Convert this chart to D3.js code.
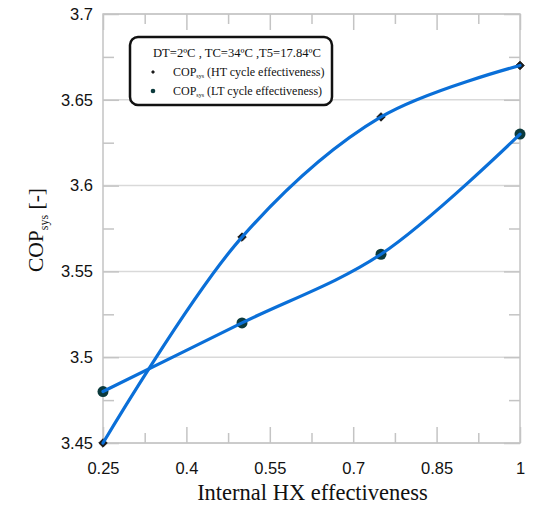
<!DOCTYPE html>
<html lang="en">
<head>
  <meta charset="UTF-8" />
  <title>COP sys vs internal HX effectiveness</title>
  <script src="https://d3js.org/d3.v7.min.js"></script>
  <style>
    body {
      margin: 0;
      background: white;
    }
    svg {
      display: block;
    }
    .tick-label text {
      font-family: "Liberation Sans", sans-serif;
      font-size: 16.5px;
      fill: #111;
    }
    .serif {
      font-family: "Liberation Serif", "Times New Roman", serif;
      fill: #111;
    }
  </style>
</head>
<body>
  <svg width="545" height="516"></svg>

  <script>
    // values
    const effectiveness = [0.25, 0.5, 0.75, 1];
    const copHT = [3.45, 3.57, 3.64, 3.67];
    const copLT = [3.48, 3.52, 3.56, 3.63];
    const xTicks = [0.25, 0.4, 0.55, 0.7, 0.85, 1];
    const xMinorTicks = [0.325, 0.475, 0.625, 0.775, 0.925];
    const yTicks = [3.45, 3.5, 3.55, 3.6, 3.65, 3.7];
    const yMinorTicks = [3.475, 3.525, 3.575, 3.625, 3.675];

    const margin = { top: 14, right: 25, bottom: 73, left: 103 };
    const width = 545, height = 516;
    const svg = d3.select("svg");

    const x = d3.scaleLinear().domain([0.25, 1]).range([margin.left, width - margin.right]);
    const y = d3.scaleLinear().domain([3.45, 3.7]).range([height - margin.bottom, margin.top]);

    const axisColor = "#c4c4c4";
    const gridColor = "#d9d9d9";
    const plotBottom = y.range()[0], plotTop = y.range()[1];
    const plotLeft = x.range()[0], plotRight = x.range()[1];

    // horizontal gridlines
    svg.append("g")
      .selectAll("line")
      .data(yTicks)
      .join("line")
      .attr("x1", plotLeft)
      .attr("x2", plotRight)
      .attr("y1", d => y(d))
      .attr("y2", d => y(d))
      .attr("stroke", gridColor)
      .attr("stroke-width", 1.5);

    // frame
    svg.append("rect")
      .attr("x", plotLeft)
      .attr("y", plotTop)
      .attr("width", plotRight - plotLeft)
      .attr("height", plotBottom - plotTop)
      .attr("fill", "none")
      .attr("stroke", axisColor)
      .attr("stroke-width", 1.5);

    // inward ticks on all four sides
    function styleAxis(g) {
      g.select(".domain").remove();
      g.selectAll(".tick line").attr("stroke", axisColor).attr("stroke-width", 1.5);
    }

    svg.append("g").attr("transform", `translate(0,${plotBottom})`)
      .call(d3.axisBottom(x).tickValues(xTicks).tickSize(-16).tickFormat(""))
      .call(styleAxis);
    svg.append("g").attr("transform", `translate(0,${plotBottom})`)
      .call(d3.axisBottom(x).tickValues(xMinorTicks).tickSize(-10).tickFormat(""))
      .call(styleAxis);
    svg.append("g").attr("transform", `translate(0,${plotTop})`)
      .call(d3.axisTop(x).tickValues(xTicks).tickSize(-16).tickFormat(""))
      .call(styleAxis);
    svg.append("g").attr("transform", `translate(0,${plotTop})`)
      .call(d3.axisTop(x).tickValues(xMinorTicks).tickSize(-10).tickFormat(""))
      .call(styleAxis);
    svg.append("g").attr("transform", `translate(${plotLeft},0)`)
      .call(d3.axisLeft(y).tickValues(yTicks).tickSize(-16).tickFormat(""))
      .call(styleAxis);
    svg.append("g").attr("transform", `translate(${plotLeft},0)`)
      .call(d3.axisLeft(y).tickValues(yMinorTicks).tickSize(-11).tickFormat(""))
      .call(styleAxis);
    svg.append("g").attr("transform", `translate(${plotRight},0)`)
      .call(d3.axisRight(y).tickValues(yTicks).tickSize(-16).tickFormat(""))
      .call(styleAxis);
    svg.append("g").attr("transform", `translate(${plotRight},0)`)
      .call(d3.axisRight(y).tickValues(yMinorTicks).tickSize(-11).tickFormat(""))
      .call(styleAxis);

    // tick labels
    svg.append("g").attr("class", "tick-label")
      .attr("transform", `translate(0,${plotBottom})`)
      .call(d3.axisBottom(x).tickValues(xTicks).tickSize(0).tickPadding(19).tickFormat(d3.format("")))
      .call(g => g.select(".domain").remove());
    svg.append("g").attr("class", "tick-label")
      .attr("transform", `translate(${plotLeft},0)`)
      .call(d3.axisLeft(y).tickValues(yTicks).tickSize(0).tickPadding(10).tickFormat(d3.format("")))
      .call(g => g.select(".domain").remove());

    // axis titles
    svg.append("text")
      .attr("class", "serif")
      .attr("x", (plotLeft + plotRight) / 2 + 1)
      .attr("y", 500)
      .attr("text-anchor", "middle")
      .attr("font-size", 22.5)
      .text("Internal HX effectiveness");

    const yTitle = svg.append("text")
      .attr("class", "serif")
      .attr("transform", "translate(43,230) rotate(-90)")
      .attr("text-anchor", "middle")
      .attr("font-size", 21.5);
    yTitle.append("tspan").text("COP");
    yTitle.append("tspan").attr("dy", 5).attr("font-size", 12).text("sys");
    yTitle.append("tspan").attr("dy", -5).text(" [-]");

    // markers (drawn under the lines, as in the source)
    const markerColor = "#0c3a3c";
    const diamond = d3.symbol().type(d3.symbolDiamond2).size(46);
    const htPoints = effectiveness.map((e, i) => [e, copHT[i]]);
    const ltPoints = effectiveness.map((e, i) => [e, copLT[i]]);

    svg.append("g")
      .selectAll("path")
      .data(htPoints)
      .join("path")
      .attr("d", diamond)
      .attr("transform", d => `translate(${x(d[0])},${y(d[1])})`)
      .attr("fill", "#1a1a1a")
      .attr("stroke", "#1a1a1a")
      .attr("stroke-width", 1);

    svg.append("g")
      .selectAll("circle")
      .data(ltPoints)
      .join("circle")
      .attr("cx", d => x(d[0]))
      .attr("cy", d => y(d[1]))
      .attr("r", 5.5)
      .attr("fill", markerColor);

    // smoothed lines
    const line = d3.line()
      .x(d => x(d[0]))
      .y(d => y(d[1]))
      .curve(d3.curveCatmullRom.alpha(0.5));

    [htPoints, ltPoints].forEach(pts => {
      svg.append("path")
        .datum(pts)
        .attr("d", line)
        .attr("fill", "none")
        .attr("stroke", "#0a6fd8")
        .attr("stroke-width", 3.2)
        .attr("stroke-linecap", "round");
    });

    // legend
    const legend = svg.append("g");
    legend.append("rect")
      .attr("x", 130)
      .attr("y", 37)
      .attr("width", 202)
      .attr("height", 68)
      .attr("rx", 8)
      .attr("fill", "white")
      .attr("stroke", "#111")
      .attr("stroke-width", 2.5);

    legend.append("text")
      .attr("class", "serif")
      .attr("x", 153)
      .attr("y", 57)
      .attr("font-size", 12.6)
      .text("DT=2ºC , TC=34ºC ,T5=17.84ºC");

    const legendItems = [
      { label: "(HT cycle effectiveness)", shape: "diamond" },
      { label: "(LT cycle effectiveness)", shape: "circle" }
    ];
    legendItems.forEach((item, i) => {
      const cy = 72 + i * 19;
      if (item.shape === "diamond") {
        legend.append("path")
          .attr("d", d3.symbol().type(d3.symbolDiamond2).size(10))
          .attr("transform", `translate(153,${cy})`)
          .attr("fill", "#1a1a1a");
      } else {
        legend.append("circle")
          .attr("cx", 153).attr("cy", cy).attr("r", 2.3)
          .attr("fill", markerColor);
      }
      const t = legend.append("text")
        .attr("class", "serif")
        .attr("x", 173)
        .attr("y", cy + 3.5)
        .attr("font-size", 12);
      t.append("tspan").text("COP");
      t.append("tspan").attr("dy", 2).attr("font-size", 6).text("sys");
      t.append("tspan").attr("dy", -2).text(" " + item.label);
    });
  </script>
</body>
</html>
